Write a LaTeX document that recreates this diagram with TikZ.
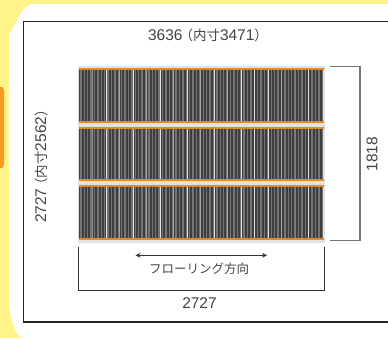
\documentclass[tikz,border=0pt]{standalone}
\usepackage{fontspec}
\usetikzlibrary{arrows.meta}
\setmainfont{Liberation Sans}
\newfontfamily\cjk{Noto Sans CJK JP}
\definecolor{bgyellow}{HTML}{FFF38A}
\definecolor{taborange}{HTML}{FB9A1E}
\definecolor{barorange}{HTML}{E48A1E}
\definecolor{panelgrey}{HTML}{E2E2E2}
\definecolor{stripedark}{HTML}{3E3E3E}
\definecolor{stripemid}{HTML}{757575}
\definecolor{textgrey}{HTML}{444444}
\tikzset{
  x=1pt,y=-1pt,
  dimtext/.style={font=\fontsize{15.5}{16}\selectfont,text=textgrey,inner sep=0pt},
  jptext/.style={font=\cjk\fontsize{12.5}{13}\selectfont,text=textgrey,inner sep=0pt},
  frameline/.style={draw=black!85,line width=1.8pt},
  bracket/.style={draw=black!80,line width=.8pt},
  bracketgrey/.style={draw=black!55,line width=1.1pt},
  orangebar/.style={fill=barorange},
}
\newcommand{\jj}[1]{{\cjk\fontsize{13.5}{14}\selectfont #1}}
\newcommand{\floorpanel}[2]{%
  \fill[stripedark] (79,#1) rectangle (322.5,#2);
  \foreach \k in {0,...,71}{
    \fill[stripemid] ({80.2+3.4*\k},#1) rectangle ({81.6+3.4*\k},#2);
  }
  \foreach \k/\c in {1/black!45,2/black!10,3/black!35,4/black!10,5/black!35,6/black!10,7/black!35,8/black!10,9/black!35,10/black!10,11/black!35,12/black!10,13/black!10,14/black!10,15/black!35,16/black!50,17/black!10}{
    \fill[\c] ({78.9+13.5*\k},#1) rectangle ({79.9+13.5*\k},#2);
  }
}
\begin{document}
\begin{tikzpicture}
\useasboundingbox (0,0) rectangle (388,338);
\fill[bgyellow] (0,0) rectangle (388,338);
\fill[taborange] (0,87) -- (2,87) to[out=0,in=-90] (4,92) -- (4,163) to[out=90,in=0] (2,168) -- (0,168) -- cycle;
\fill[white] (388,4) -- (33,4) to[out=180,in=-90] (9,30) -- (9,310) to[out=90,in=180,looseness=1] (24,338) -- (388,338) -- cycle;
\draw[frameline] (388,21.5) -- (23.5,21.5) -- (23.5,322) -- (388,322);
% panels
\fill[panelgrey] (78,66) rectangle (324.5,242.5);
\floorpanel{70}{121}
\floorpanel{129}{179}
\floorpanel{187}{238}
\foreach \a/\b in {68/70,121/123,127/129,179/181,185/187,238/240}{
  \fill[orangebar] (78.5,\a) rectangle (324,\b);
}
\coordinate (rt) at (330,66.5);
\coordinate (rb) at (330,240.5);
\coordinate (bl) at (78.5,247);
\coordinate (br) at (324.5,247);
\coordinate (al) at (135.5,255.3);
\coordinate (ar) at (267,255.3);
\draw[bracketgrey] (rt) -- (360,66.5) -- (360,240.5) -- (rb);
\draw[bracket] (bl) -- (78.5,290) -- (324.5,290) -- (br);
\draw[bracket,{Stealth[length=5pt,width=5pt]}-{Stealth[length=5pt,width=5pt]}] (al) -- (ar);
\node[dimtext] (top) at (208,35) {3636\kern-3pt\jj{（内寸}3471\jj{）}};
\node[dimtext,rotate=90] (left) at (41,163) {2727\kern-3pt\jj{（内寸}2562\jj{）}};
\node[dimtext,rotate=90] (right) at (372,154) {1818};
\node[dimtext] (bot) at (199.5,303) {2727};
\node[jptext] (dir) at (199,269) {フローリング方向};
\end{tikzpicture}
\end{document}
